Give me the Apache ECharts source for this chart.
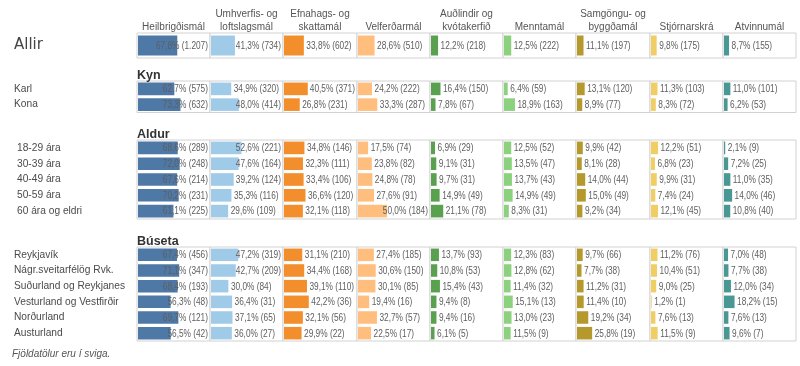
<!DOCTYPE html>
<html><head><meta charset="utf-8">
<script src="https://cdn.jsdelivr.net/npm/echarts@6/dist/echarts.min.js"></script>
<style>html,body{margin:0;padding:0;background:#fff}#c{width:800px;height:366px}</style>
</head><body><div id="c"></div>
<script>
// ---- data ----
const columns = ['Heilbrigðismál','Umhverfis- og\nloftslagsmál','Efnahags- og\nskattamál','Velferðarmál','Auðlindir og\nkvótakerfið','Menntamál','Samgöngu- og\nbyggðamál','Stjórnarskrá','Atvinnumál'];
const groupTitles = ['', 'Kyn', 'Aldur', 'Búseta'];
const rowsAllir = ['Allir'];
const rowsKyn = ['Karl','Kona'];
const rowsAldur = ['18-29 ára','30-39 ára','40-49 ára','50-59 ára','60 ára og eldri'];
const rowsBuseta = ['Reykjavík','Nágr.sveitarfélög Rvk.','Suðurland og Reykjanes','Vesturland og Vestfirðir','Norðurland','Austurland'];
// percentages per column, rows in order: Allir, Kyn, Aldur, Búseta
const heilbrigdisPct = [67.8,62.7,73.3,68.6,72.0,67.6,70.2,61.1,67.4,71.1,68.4,56.3,69.7,56.5];
const heilbrigdisCnt = [1207,575,632,289,248,214,231,225,456,347,193,48,121,42];
const umhverfisPct = [41.3,34.9,48.0,52.6,47.6,39.2,35.3,29.6,47.2,42.7,30.0,36.4,37.1,36.0];
const umhverfisCnt = [734,320,414,221,164,124,116,109,319,209,84,31,65,27];
const efnahagsPct = [33.8,40.5,26.8,34.8,32.3,33.4,36.6,32.1,31.1,34.4,39.1,42.2,32.1,29.9];
const efnahagsCnt = [602,371,231,146,111,106,120,118,210,168,110,36,56,22];
const velferdPct = [28.6,24.2,33.3,17.5,23.8,24.8,27.6,50.0,27.4,30.6,30.1,19.4,32.7,22.5];
const velferdCnt = [510,222,287,74,82,78,91,184,185,150,85,16,57,17];
const audlindirPct = [12.2,16.4,7.8,6.9,9.1,9.7,14.9,21.1,13.7,10.8,15.4,9.4,9.4,6.1];
const audlindirCnt = [218,150,67,29,31,31,49,78,93,53,43,8,16,5];
const menntaPct = [12.5,6.4,18.9,12.5,13.5,13.7,14.9,8.3,12.3,12.8,11.4,15.1,13.0,11.5];
const menntaCnt = [222,59,163,52,47,43,49,31,83,62,32,13,23,9];
const samgonguPct = [11.1,13.1,8.9,9.9,8.1,14.0,15.0,9.2,9.7,7.7,11.2,11.4,19.2,25.8];
const samgonguCnt = [197,120,77,42,28,44,49,34,66,38,31,10,34,19];
const stjornarPct = [9.8,11.3,8.3,12.2,6.8,9.9,7.4,12.1,11.2,10.4,9.0,1.2,7.6,11.5];
const stjornarCnt = [175,103,72,51,23,31,24,45,76,51,25,1,13,9];
const atvinnuPct = [8.7,11.0,6.2,2.1,7.2,11.0,14.0,10.8,7.0,7.7,12.0,18.2,7.6,9.6];
const atvinnuCnt = [155,101,53,9,25,35,46,40,48,38,34,15,13,7];
const footnote = 'Fjöldatölur eru í sviga.';

// ---- assembly ----
const pctCols = [heilbrigdisPct,umhverfisPct,efnahagsPct,velferdPct,audlindirPct,menntaPct,samgonguPct,stjornarPct,atvinnuPct];
const cntCols = [heilbrigdisCnt,umhverfisCnt,efnahagsCnt,velferdCnt,audlindirCnt,menntaCnt,samgonguCnt,stjornarCnt,atvinnuCnt];
const colors = ['#4E79A7','#A0CBE8','#F28E2B','#FFBE7D','#59A14F','#8CD17D','#B6992D','#F1CE63','#499894'];
const groups = [rowsAllir, rowsKyn, rowsAldur, rowsBuseta];
const groupTop = [33, 81, 140, 247];
const groupH = [25, 31.5, 79, 94];
const labelMargin = [123, 123, 120, 123];
const X0 = 137, CW = 73.22, AXMAX = 126;
const FONT = '"Liberation Sans", Arial, sans-serif';
const SX = 0.79, LFS = 10.5;
const mctx = document.createElement('canvas').getContext('2d');
mctx.font = LFS + 'px ' + FONT;
function tw(s){ return mctx.measureText(s).width * SX; }
function fmtPct(v){ return v.toFixed(1).replace('.', ',') + '%'; }
function fmtCnt(n){ return String(n).replace(/\B(?=(\d{3})+(?!\d))/g, '.'); }

const grid = [], xAxis = [], yAxis = [], series = [];
let rowOffset = 0;
groups.forEach((rows, g) => {
  for (let j = 0; j < 9; j++) {
    const left = Math.round(X0 + j * CW), right = Math.round(X0 + (j + 1) * CW);
    const gi = grid.length;
    grid.push({left: left, top: groupTop[g], width: right - left, height: groupH[g],
      show: true, borderColor: '#d2d2d2', borderWidth: 1, backgroundColor: '#fff'});
    xAxis.push({gridIndex: gi, type: 'value', min: 0, max: AXMAX, position: 'top',
      show: g === 0, name: g === 0 ? columns[j] : '', nameLocation: 'middle', nameGap: -1,
      nameTextStyle: {fontFamily: FONT, fontSize: 10, color: '#555', lineHeight: 13},
      axisLine: {show: false}, axisTick: {show: false}, axisLabel: {show: false}, splitLine: {show: false}});
    yAxis.push({gridIndex: gi, type: 'category', data: rows, inverse: true, show: j === 0,
      axisLine: {show: false}, axisTick: {show: false}, splitLine: {show: false},
      axisLabel: {show: j === 0, align: 'left', margin: labelMargin[g],
        fontFamily: g === 0 ? '"DejaVu Sans", sans-serif' : FONT,
        fontSize: g === 0 ? 15 : 10.2, color: g === 0 ? '#444' : '#4a4a4a'}});
    const data = rows.map((r, i) => [pctCols[j][rowOffset + i], i, cntCols[j][rowOffset + i]]);
    const color = colors[j];
    series.push({type: 'custom', xAxisIndex: gi, yAxisIndex: gi, encode: {x: 0, y: 1},
      data: data, silent: true, animation: false,
      renderItem: function (params, api) {
        const v = api.value(0), row = api.value(1), cnt = api.value(2);
        const p0 = api.coord([0, row]), p1 = api.coord([v, row]);
        const h = api.size([0, 1])[1] * 0.8;
        const cs = params.coordSys;
        const label = fmtPct(v) + ' (' + fmtCnt(cnt) + ')';
        const w = tw(label);
        const barEnd = p1[0] + 1;
        const tx = Math.min(barEnd + 2.5, cs.x + cs.width - 2 - w);
        return {type: 'group', children: [
          {type: 'rect', shape: {x: p0[0] + 1, y: p0[1] - h / 2, width: p1[0] - p0[0], height: h},
            style: {fill: color}},
          {type: 'text', x: tx, y: p0[1] + 0.5, scaleX: SX,
            style: {text: label, fontFamily: FONT, fontSize: LFS, fill: '#5e5e5e',
              align: 'left', verticalAlign: 'middle'}}
        ]};
      }});
  }
  rowOffset += rows.length;
});

const graphic = [];
[1, 2, 3].forEach(g => {
  graphic.push({type: 'text', left: 137, top: groupTop[g] - 12,
    style: {text: groupTitles[g], fontFamily: FONT, fontWeight: 'bold', fontSize: 12.5, fill: '#333'}});
});
graphic.push({type: 'text', left: 12, top: 349,
  style: {text: footnote, fontFamily: FONT, fontStyle: 'italic', fontSize: 10, fill: '#555'}});

const chart = echarts.init(document.getElementById('c'), null, {renderer: 'canvas'});
chart.setOption({animation: false, grid, xAxis, yAxis, series, graphic});
</script></body></html>
